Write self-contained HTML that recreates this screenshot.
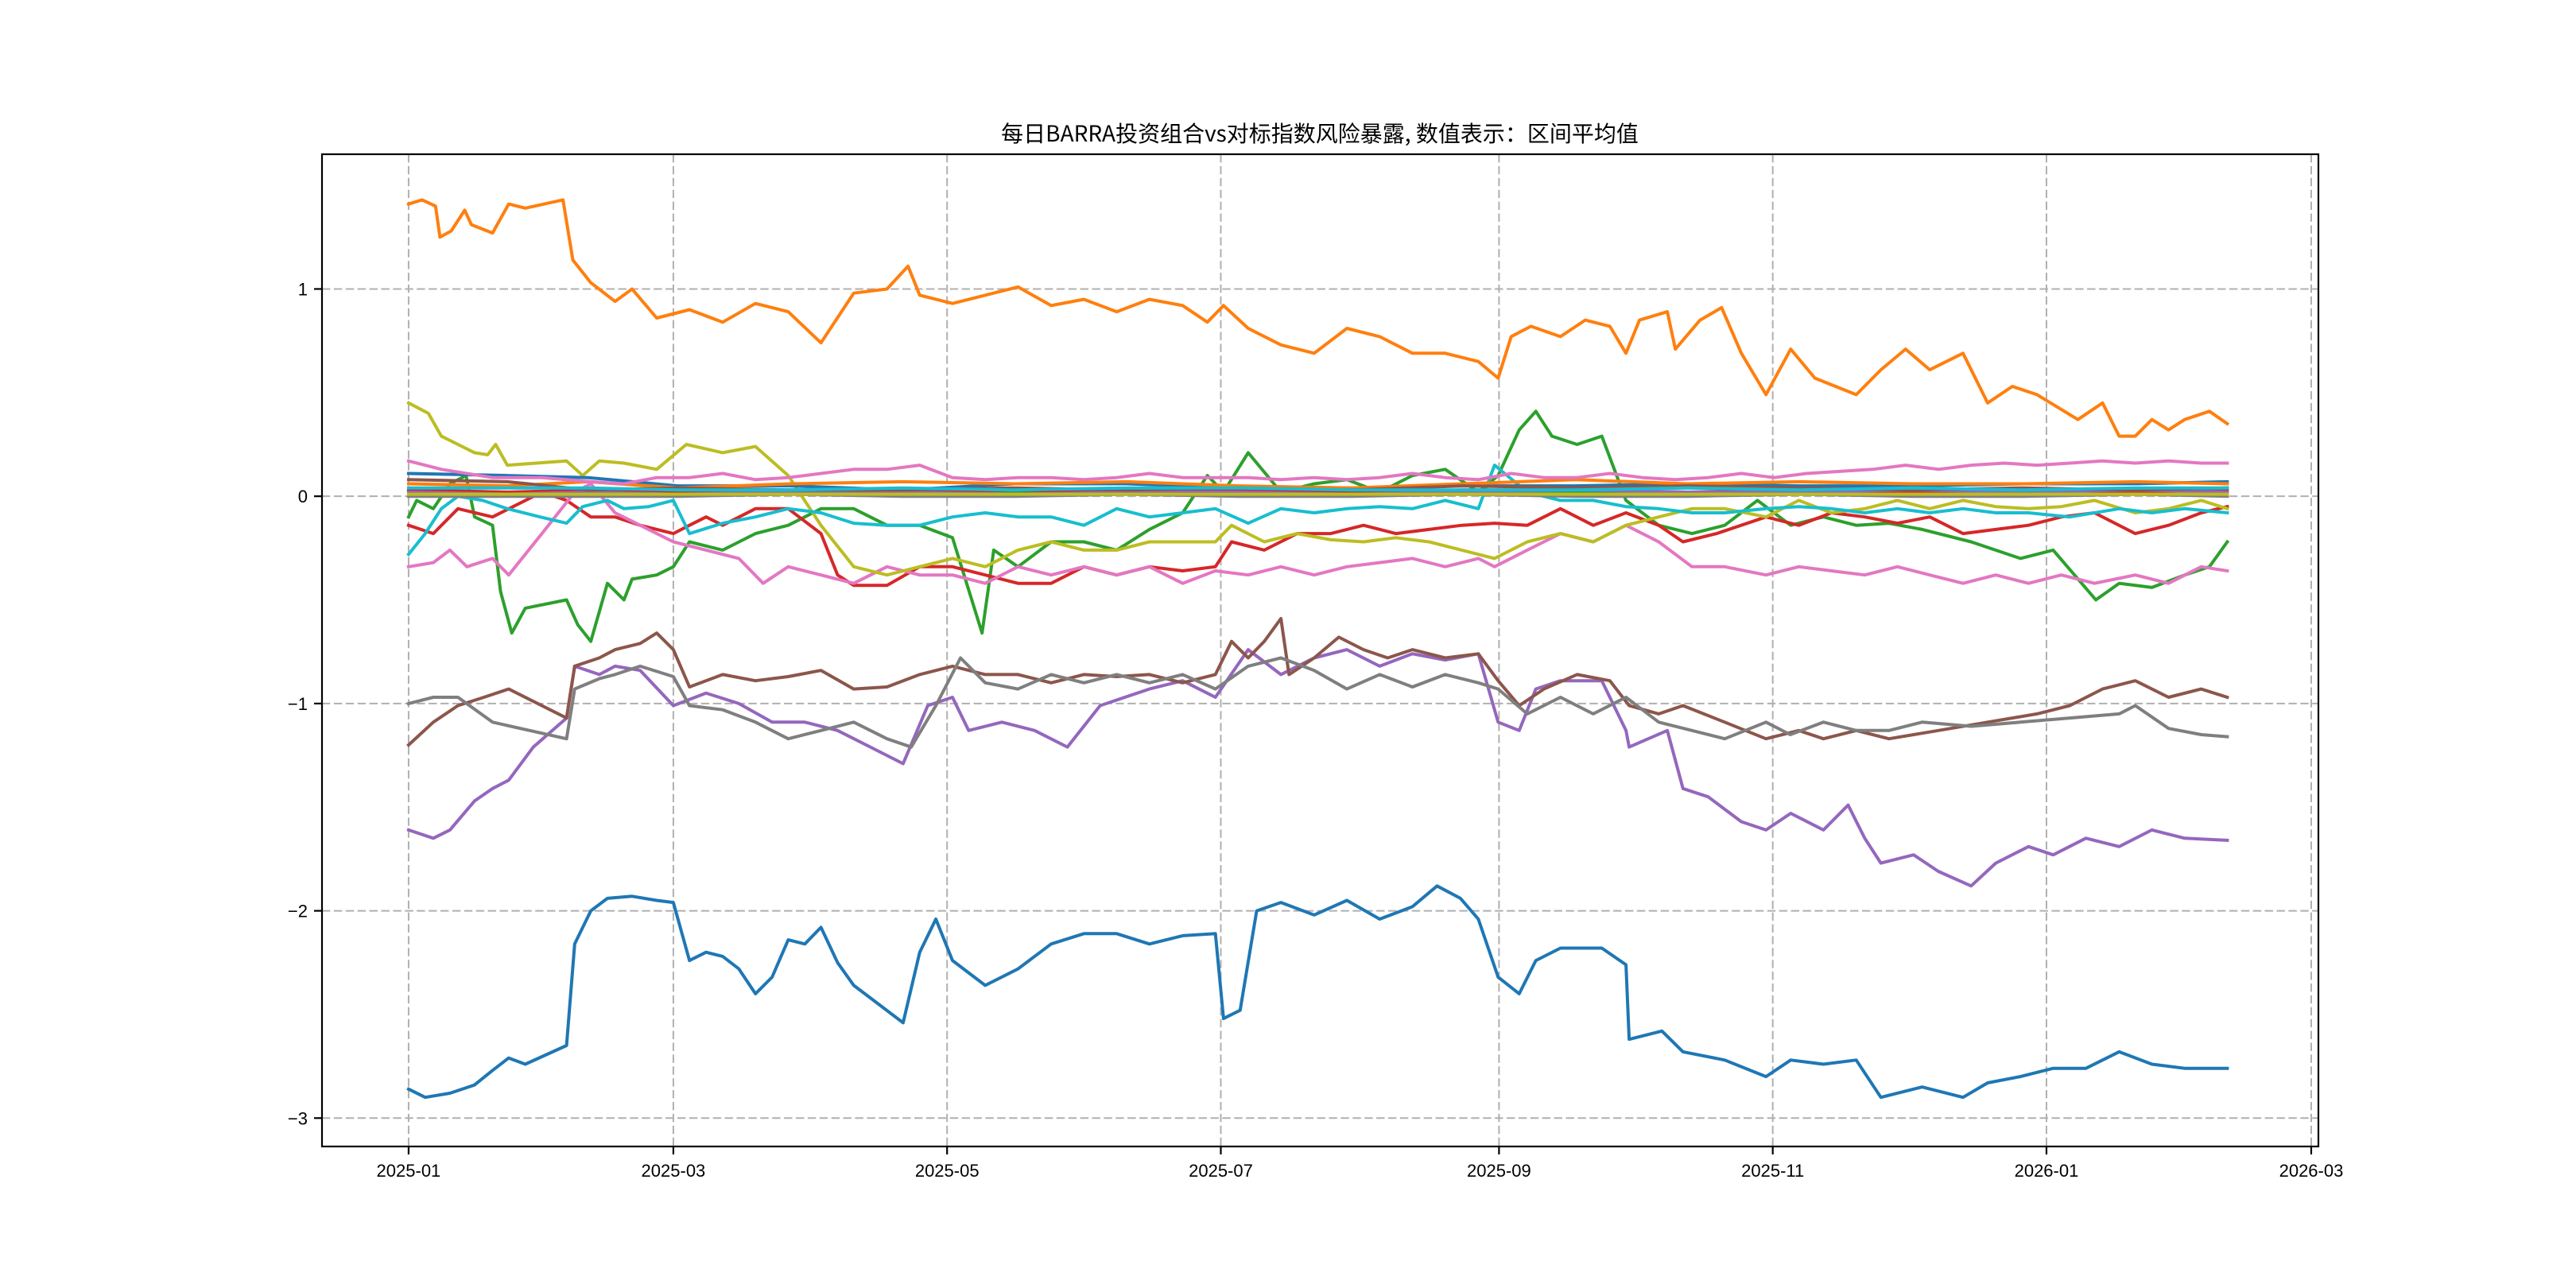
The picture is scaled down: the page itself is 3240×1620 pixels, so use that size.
<!DOCTYPE html>
<html><head><meta charset="utf-8"><style>
html,body{margin:0;padding:0;background:#fff;}
svg{display:block;font-family:"Liberation Sans","WenQuanYi Zen Hei","Noto Sans CJK SC",sans-serif;}
</style></head><body>
<svg id="chart" width="3240" height="1620" viewBox="0 0 3240 1620" xmlns="http://www.w3.org/2000/svg">
<rect width="3240" height="1620" fill="#fff"/>
<text x="1660" y="178" font-size="28" text-anchor="middle" font-family="WenQuanYi Zen Hei, Noto Sans CJK SC, sans-serif">每日BARRA投资组合vs对标指数风险暴露, 数值表示：区间平均值</text>
<g id="grid"></g>
<g id="series"></g>
<g id="axes"></g>
</svg>
<script>
// x-axis: days since 2025-01-01
const xTickDays = [0, 59, 120, 181, 243, 304, 365, 424];
const xTickLabels = ["2025-01","2025-03","2025-05","2025-07","2025-09","2025-11","2026-01","2026-03"];
const yTickValues = [1, 0, -1, -2, -3];
const yTickLabels = ["1","0","\u22121","\u22122","\u22123"];

const orangeTopDays = [0,3,6,7,9.5,12.5,14,18.7,22.3,26,34.4,36.6,40.6,46,49.8,55.3,62.6,70,77.3,84.6,91.9,99.2,106.6,111.3,113.9,121.2,128.5,135.8,143.2,150.5,157.8,165.1,172.5,178,181.6,187.1,194.4,201.8,209.1,216.4,223.7,231,238.4,242.8,245.7,250.1,256.7,262.2,267.7,271.3,274.3,280.5,282.3,287.8,292.6,297,302.5,308,313.4,322.6,328.1,333.6,339,346.4,351.9,357.4,362.9,372,377.5,381.2,384.8,388.5,392.2,395.8,401.3,405.3];
const orangeTopVals = [1.41,1.43,1.40,1.25,1.28,1.38,1.31,1.27,1.41,1.39,1.43,1.14,1.03,0.94,1.00,0.86,0.90,0.84,0.93,0.89,0.74,0.98,1.00,1.11,0.97,0.93,0.97,1.01,0.92,0.95,0.89,0.95,0.92,0.84,0.92,0.81,0.73,0.69,0.81,0.77,0.69,0.69,0.65,0.57,0.77,0.82,0.77,0.85,0.82,0.69,0.85,0.89,0.71,0.85,0.91,0.69,0.49,0.71,0.57,0.49,0.61,0.71,0.61,0.69,0.45,0.53,0.49,0.37,0.45,0.29,0.29,0.37,0.32,0.37,0.41,0.35];

const blueLowDays = [0,3.7,9.2,14.7,18.7,22.3,26,35.2,37,40.6,44.3,49.8,55.3,59,62.6,66.3,70,73.6,77.3,81,84.6,88.3,91.9,95.6,99.2,104.7,110.2,113.9,117.5,121.2,128.5,135.8,143.2,150.5,157.8,165.1,172.5,179.8,181.6,185.3,189,194.4,201.8,209.1,216.4,223.7,229.2,234.4,238.4,242.8,247.5,251.2,256.7,265.9,271.3,272,279.3,284,293.3,302.5,308,315.3,322.6,328.1,337.3,346.4,351.9,359.2,366.5,373.8,381.2,388.5,395.8,405.3];
const blueLowVals = [-2.86,-2.90,-2.88,-2.84,-2.77,-2.71,-2.74,-2.65,-2.16,-2.00,-1.94,-1.93,-1.95,-1.96,-2.24,-2.20,-2.22,-2.28,-2.40,-2.32,-2.14,-2.16,-2.08,-2.25,-2.36,-2.45,-2.54,-2.20,-2.04,-2.24,-2.36,-2.28,-2.16,-2.11,-2.11,-2.16,-2.12,-2.11,-2.52,-2.48,-2.00,-1.96,-2.02,-1.95,-2.04,-1.98,-1.88,-1.94,-2.04,-2.32,-2.40,-2.24,-2.18,-2.18,-2.26,-2.62,-2.58,-2.68,-2.72,-2.80,-2.72,-2.74,-2.72,-2.90,-2.85,-2.90,-2.83,-2.80,-2.76,-2.76,-2.68,-2.74,-2.76,-2.76];

const purpleDays = [0,5.5,9.2,14.7,18.7,22.3,27.8,35.2,37,42.5,46,51.6,59,66.3,73.6,81,88.3,95.6,102.9,110.2,115.7,121.2,124.8,132.2,139.5,146.8,154.1,165.1,172.5,179.8,187.1,194.4,201.8,209.1,216.4,223.7,231,238.4,242.8,247.5,251.2,256.7,265.9,271.3,272,280.5,284,289.6,297,302.5,308,315.3,320.8,324.5,328.1,335.4,340.9,348.2,353.7,361,366.5,373.8,381.2,388.5,395.8,405.3];
const purpleVals = [-1.61,-1.65,-1.61,-1.47,-1.41,-1.37,-1.21,-1.07,-0.82,-0.86,-0.82,-0.84,-1.01,-0.95,-1.00,-1.09,-1.09,-1.13,-1.21,-1.29,-1.01,-0.97,-1.13,-1.09,-1.13,-1.21,-1.01,-0.93,-0.89,-0.97,-0.74,-0.86,-0.78,-0.74,-0.82,-0.76,-0.79,-0.76,-1.09,-1.13,-0.93,-0.89,-0.89,-1.13,-1.21,-1.13,-1.41,-1.45,-1.57,-1.61,-1.53,-1.61,-1.49,-1.65,-1.77,-1.73,-1.81,-1.88,-1.77,-1.69,-1.73,-1.65,-1.69,-1.61,-1.65,-1.66];

const brownDays = [0,5.5,11,16.8,22.3,35.2,37,42.5,46,51.6,55.3,59,62.6,70,77.3,84.6,91.9,99.2,106.6,113.9,121.2,128.5,135.8,143.2,150.5,157.8,165.1,172.5,179.8,183.4,187.1,190.7,194.4,196.2,201.8,207.3,212.8,218.2,223.7,231,238.4,242.8,247.5,253,260.4,267.7,272,278.6,284,293.3,302.5,309.8,315.3,322.6,329.9,340.9,351.9,362.9,370.2,377.5,384.8,392.2,399.5,405.3];
const brownVals = [-1.20,-1.09,-1.01,-0.97,-0.93,-1.07,-0.82,-0.78,-0.74,-0.71,-0.66,-0.74,-0.92,-0.86,-0.89,-0.87,-0.84,-0.93,-0.92,-0.86,-0.82,-0.86,-0.86,-0.90,-0.86,-0.87,-0.86,-0.90,-0.86,-0.70,-0.78,-0.70,-0.59,-0.86,-0.78,-0.68,-0.74,-0.78,-0.74,-0.78,-0.76,-0.89,-1.01,-0.93,-0.86,-0.89,-1.01,-1.05,-1.01,-1.09,-1.17,-1.13,-1.17,-1.13,-1.17,-1.13,-1.09,-1.05,-1.01,-0.93,-0.89,-0.97,-0.93,-0.97];

const grayDays = [0,5.5,11,18.7,35.2,37,42.5,46,51.6,59,62.6,70,77.3,84.6,91.9,99.2,106.6,112,117.5,123,128.5,135.8,143.2,150.5,157.8,165.1,172.5,179.8,187.1,194.4,201.8,209.1,216.4,223.7,231,238.4,242.8,249.3,256.7,264,271.3,278.6,286,293.3,302.5,307.9,315.3,322.6,329.9,337.3,348.2,359.2,370.2,381.2,384.8,392.2,399.5,405.3];
const grayVals = [-1.00,-0.97,-0.97,-1.09,-1.17,-0.93,-0.88,-0.86,-0.82,-0.87,-1.01,-1.03,-1.09,-1.17,-1.13,-1.09,-1.17,-1.21,-1.01,-0.78,-0.90,-0.93,-0.86,-0.90,-0.86,-0.90,-0.86,-0.93,-0.82,-0.78,-0.84,-0.93,-0.86,-0.92,-0.86,-0.90,-0.93,-1.05,-0.97,-1.05,-0.97,-1.09,-1.13,-1.17,-1.09,-1.15,-1.09,-1.13,-1.13,-1.09,-1.11,-1.09,-1.07,-1.05,-1.01,-1.12,-1.15,-1.16];

const greenDays = [0,1.8,5.5,9.2,12.8,14.7,18.7,20.5,23,26,35.2,37.7,40.6,44.3,48,49.8,55.3,59,62.6,70,77.3,84.6,91.9,99.2,106.6,113.9,121.2,127.8,130.4,135.8,143.2,150.5,157.8,165.1,172.5,178,181.6,187.1,194.4,201.8,209.1,216.4,223.7,231,238.4,242.8,247.5,251.2,254.8,260.4,265.9,271.3,278.6,286,293.3,300.6,308,315.3,322.6,329.9,337.3,348.2,359.2,366.5,376,381.2,388.5,395.8,401.3,405.3];
const greenVals = [-0.10,-0.02,-0.06,0.06,0.10,-0.10,-0.14,-0.46,-0.66,-0.54,-0.50,-0.62,-0.70,-0.42,-0.50,-0.40,-0.38,-0.34,-0.22,-0.26,-0.18,-0.14,-0.06,-0.06,-0.14,-0.14,-0.20,-0.66,-0.26,-0.34,-0.22,-0.22,-0.26,-0.16,-0.08,0.10,0.02,0.21,0.02,0.06,0.08,0.02,0.10,0.13,0.02,0.10,0.32,0.41,0.29,0.25,0.29,-0.02,-0.14,-0.18,-0.14,-0.02,-0.14,-0.10,-0.14,-0.13,-0.16,-0.22,-0.30,-0.26,-0.50,-0.42,-0.44,-0.38,-0.34,-0.22];

const redDays = [0,5.5,11,18.7,29.7,35.2,40.6,46,51.6,59,62.6,66.3,70,77.3,84.6,91.9,95.6,99.2,106.6,113.9,121.2,128.5,135.8,143.2,150.5,157.8,165.1,172.5,179.8,183.4,190.7,198,205.5,212.8,220,227.4,234.7,242,249.3,256.7,264,271.3,278.6,284,291.5,302.5,309.8,317.1,324.5,331.8,339,346.4,353.7,361,368.3,375.7,384.8,392.2,399.5,405.3];
const redVals = [-0.14,-0.18,-0.06,-0.10,0.02,-0.02,-0.10,-0.10,-0.14,-0.18,-0.14,-0.10,-0.14,-0.06,-0.06,-0.18,-0.38,-0.43,-0.43,-0.34,-0.34,-0.38,-0.42,-0.42,-0.34,-0.38,-0.34,-0.36,-0.34,-0.22,-0.26,-0.18,-0.18,-0.14,-0.18,-0.16,-0.14,-0.13,-0.14,-0.06,-0.14,-0.08,-0.14,-0.22,-0.18,-0.10,-0.14,-0.08,-0.10,-0.13,-0.10,-0.18,-0.16,-0.14,-0.10,-0.08,-0.18,-0.14,-0.08,-0.05];

const oliveDays = [0,4.4,7.3,11,14.7,17.6,19.4,22,35.2,38.8,42.5,48,55.3,61.9,70,77.3,84.6,91.9,99.2,106.6,113.9,121.2,128.5,135.8,143.2,150.5,157.8,165.1,172.5,179.8,183.4,190.7,198,205.5,212.8,220,227.4,234.7,242,249.3,256.7,264,271.3,278.6,286,293.3,302.5,309.8,317.1,324.5,331.8,339,346.4,353.7,361,368.3,375.7,384.8,392.2,399.5,405.3];
const oliveVals = [0.45,0.40,0.29,0.25,0.21,0.20,0.25,0.15,0.17,0.10,0.17,0.16,0.13,0.25,0.21,0.24,0.10,-0.14,-0.34,-0.38,-0.34,-0.30,-0.34,-0.26,-0.22,-0.26,-0.26,-0.22,-0.22,-0.22,-0.14,-0.22,-0.18,-0.21,-0.22,-0.20,-0.22,-0.26,-0.30,-0.22,-0.18,-0.22,-0.14,-0.10,-0.06,-0.06,-0.10,-0.02,-0.08,-0.06,-0.02,-0.06,-0.02,-0.05,-0.06,-0.05,-0.02,-0.08,-0.06,-0.02,-0.06];

const cyanDays = [0,3.7,7.3,11,16.5,22,29.3,35.2,38.8,44.3,48,53.5,59,62.6,70,77.3,84.6,91.9,99.2,106.6,113.9,121.2,128.5,135.8,143.2,150.5,157.8,165.1,172.5,179.8,187.1,194.4,201.8,209.1,216.4,223.7,231,238.4,242,249.3,256.7,264,271.3,278.6,286,293.3,302.5,309.8,317.1,324.5,331.8,339,346.4,353.7,361,370.2,381.2,388.5,395.8,405.3];
const cyanVals = [-0.28,-0.18,-0.06,0.00,-0.02,-0.06,-0.10,-0.13,-0.05,-0.02,-0.06,-0.05,-0.02,-0.18,-0.13,-0.10,-0.06,-0.08,-0.13,-0.14,-0.14,-0.10,-0.08,-0.10,-0.10,-0.14,-0.06,-0.10,-0.08,-0.06,-0.13,-0.06,-0.08,-0.06,-0.05,-0.06,-0.02,-0.06,0.15,0.02,-0.02,-0.02,-0.05,-0.06,-0.08,-0.08,-0.06,-0.05,-0.06,-0.08,-0.06,-0.08,-0.06,-0.08,-0.08,-0.10,-0.06,-0.08,-0.06,-0.08];

const pinkLowDays = [0,5.5,9.2,13,18.7,22.3,29.7,37,40.6,46,51.6,59,66.3,73.6,79,84.6,91.9,99.2,106.6,113.9,121.2,128.5,135.8,143.2,150.5,157.8,165.1,172.5,179.8,187.1,194.4,201.8,209.1,216.4,223.7,231,238.4,242,249.3,256.7,264,271.3,278.6,286,293.3,302.5,309.8,317.1,324.5,331.8,339,346.4,353.7,361,368.3,375.7,384.8,392.2,399.5,405.3];
const pinkLowVals = [-0.34,-0.32,-0.26,-0.34,-0.30,-0.38,-0.18,0.02,0.06,-0.08,-0.14,-0.22,-0.26,-0.30,-0.42,-0.34,-0.38,-0.42,-0.34,-0.38,-0.38,-0.42,-0.34,-0.38,-0.34,-0.38,-0.34,-0.42,-0.36,-0.38,-0.34,-0.38,-0.34,-0.32,-0.30,-0.34,-0.30,-0.34,-0.26,-0.18,-0.22,-0.14,-0.22,-0.34,-0.34,-0.38,-0.34,-0.36,-0.38,-0.34,-0.38,-0.42,-0.38,-0.42,-0.38,-0.42,-0.38,-0.42,-0.34,-0.36];

const pinkHighDays = [0,7.3,18.7,29.7,40.6,48,55.3,62.6,70,77.3,84.6,91.9,99.2,106.6,113.9,121.2,128.5,135.8,143.2,150.5,157.8,165.1,172.5,179.8,187.1,194.4,201.8,209.1,216.4,223.7,231,238.4,245.7,253,260.4,267.7,275,282.3,289.6,297,304.3,311.6,318.9,326.3,333.6,341,348.2,355.6,362.9,370.2,377.5,384.8,392.2,399.5,405.3];
const pinkHighVals = [0.17,0.13,0.09,0.09,0.07,0.06,0.09,0.09,0.11,0.08,0.09,0.11,0.13,0.13,0.15,0.09,0.08,0.09,0.09,0.08,0.09,0.11,0.09,0.09,0.09,0.08,0.09,0.08,0.09,0.11,0.09,0.08,0.11,0.09,0.09,0.11,0.09,0.08,0.09,0.11,0.09,0.11,0.12,0.13,0.15,0.13,0.15,0.16,0.15,0.16,0.17,0.16,0.17,0.16,0.16];

const nearZeroDays = [0,22,40,60,85,110,135,160,185,210,235,260,285,310,335,360,385,405.3];
const blueSmallVals = [0.11,0.10,0.09,0.05,0.05,0.03,0.06,0.06,0.04,0.04,0.05,0.05,0.06,0.05,0.05,0.06,0.06,0.07];
const orangeSmallVals = [0.06,0.05,0.07,0.04,0.06,0.07,0.06,0.07,0.05,0.04,0.06,0.08,0.06,0.07,0.06,0.06,0.07,0.06];
const brownSmallVals = [0.08,0.07,0.03,0.04,0.03,0.03,0.04,0.03,0.04,0.03,0.05,0.04,0.05,0.04,0.03,0.04,0.03,0.04];
const cyanSmallVals = [0.04,0.04,0.04,0.03,0.03,0.04,0.03,0.04,0.04,0.03,0.03,0.03,0.04,0.03,0.04,0.03,0.04,0.04];
const greenSmallVals = [0.03,0.02,0.02,0.02,0.02,0.01,0.02,0.02,0.02,0.03,0.02,0.02,0.02,0.02,0.02,0.02,0.03,0.02];
const purpleSmallVals = [0.02,0.01,0.02,0.01,0.02,0.02,0.01,0.02,0.02,0.01,0.02,0.03,0.02,0.02,0.03,0.02,0.03,0.02];
const redSmallVals = [0.03,0.02,0.03,0.02,0.03,0.02,0.03,0.02,0.03,0.02,0.03,0.03,0.02,0.03,0.02,0.03,0.02,0.03];
const graySmallVals = [0.00,0.00,0.00,0.00,0.01,0.00,0.00,0.01,0.00,0.00,0.01,0.00,0.00,0.01,0.00,0.00,0.01,0.00];
const oliveSmallVals = [0.01,0.01,0.01,0.01,0.01,0.01,0.01,0.01,0.01,0.01,0.01,0.01,0.01,0.01,0.01,0.01,0.01,0.01];

const seriesList = [
  {name:"series-blue-low", days:blueLowDays, vals:blueLowVals, color:"#1f77b4"},
  {name:"series-orange-top", days:orangeTopDays, vals:orangeTopVals, color:"#ff7f0e"},
  {name:"series-green", days:greenDays, vals:greenVals, color:"#2ca02c"},
  {name:"series-red", days:redDays, vals:redVals, color:"#d62728"},
  {name:"series-purple", days:purpleDays, vals:purpleVals, color:"#9467bd"},
  {name:"series-brown", days:brownDays, vals:brownVals, color:"#8c564b"},
  {name:"series-pink-low", days:pinkLowDays, vals:pinkLowVals, color:"#e377c2"},
  {name:"series-gray", days:grayDays, vals:grayVals, color:"#7f7f7f"},
  {name:"series-olive", days:oliveDays, vals:oliveVals, color:"#bcbd22"},
  {name:"series-cyan", days:cyanDays, vals:cyanVals, color:"#17becf"},
  {name:"series-blue-small", days:nearZeroDays, vals:blueSmallVals, color:"#1f77b4"},
  {name:"series-orange-small", days:nearZeroDays, vals:orangeSmallVals, color:"#ff7f0e"},
  {name:"series-green-small", days:nearZeroDays, vals:greenSmallVals, color:"#2ca02c"},
  {name:"series-red-small", days:nearZeroDays, vals:redSmallVals, color:"#d62728"},
  {name:"series-purple-small", days:nearZeroDays, vals:purpleSmallVals, color:"#9467bd"},
  {name:"series-brown-small", days:nearZeroDays, vals:brownSmallVals, color:"#8c564b"},
  {name:"series-pink-high", days:pinkHighDays, vals:pinkHighVals, color:"#e377c2"},
  {name:"series-gray-small", days:nearZeroDays, vals:graySmallVals, color:"#7f7f7f"},
  {name:"series-olive-small", days:nearZeroDays, vals:oliveSmallVals, color:"#bcbd22"},
  {name:"series-cyan-small", days:nearZeroDays, vals:cyanSmallVals, color:"#17becf"}
];

const NS = "http://www.w3.org/2000/svg";
const L = 405, R = 2916, T = 194, B = 1442;
const xMin = -19.3, xMax = 425.6, yMin = -3.137, yMax = 1.65;
function xs(d){ return L + (d - xMin) / (xMax - xMin) * (R - L); }
function ys(v){ return B - (v - yMin) / (yMax - yMin) * (B - T); }
function mk(tag, attrs, parent){ const e = document.createElementNS(NS, tag); for (const k in attrs) e.setAttribute(k, attrs[k]); parent.appendChild(e); return e; }

const grid = document.getElementById('grid');
const axes = document.getElementById('axes');
const sg = document.getElementById('series');

xTickDays.forEach((d, i) => {
  const x = xs(d);
  const gl = mk('line', {x1:x, x2:x, y1:T, y2:B, stroke:"#b0b0b0", "stroke-width":2, "stroke-dasharray":"10.4,4.5"}, grid);
  
  
  const tk = mk('line', {x1:x, x2:x, y1:B, y2:B+10, stroke:"#000", "stroke-width":2.2}, axes);
  
  
  const tx = mk('text', {x:x, y:B+38, "font-size":22, "text-anchor":"middle", "font-family":"WenQuanYi Zen Hei, sans-serif"}, axes);
  tx.textContent = xTickLabels[i];
  
  
});
yTickValues.forEach((v, i) => {
  const y = ys(v);
  const gl = mk('line', {x1:L, x2:R, y1:y, y2:y, stroke:"#b0b0b0", "stroke-width":2, "stroke-dasharray":"10.4,4.5"}, grid);
  
  
  const tk = mk('line', {x1:L-10, x2:L, y1:y, y2:y, stroke:"#000", "stroke-width":2.2}, axes);
  
  
  const tx = mk('text', {x:L-18, y:y+8, "font-size":22, "text-anchor":"end", "font-family":"WenQuanYi Zen Hei, sans-serif"}, axes);
  tx.textContent = yTickLabels[i];
  
  
});

seriesList.forEach(s => {
  const pts = s.days.map((d, i) => xs(d).toFixed(1) + ',' + ys(s.vals[i]).toFixed(1)).join(' ');
  const pl = mk('polyline', {points:pts, fill:"none", stroke:s.color, "stroke-width":4, "stroke-linejoin":"round", "stroke-linecap":"square"}, sg);
  
  
});

const frame = mk('rect', {x:L, y:T, width:R-L, height:B-T, fill:"none", stroke:"#000", "stroke-width":2.2}, axes);


</script>
</body></html>
